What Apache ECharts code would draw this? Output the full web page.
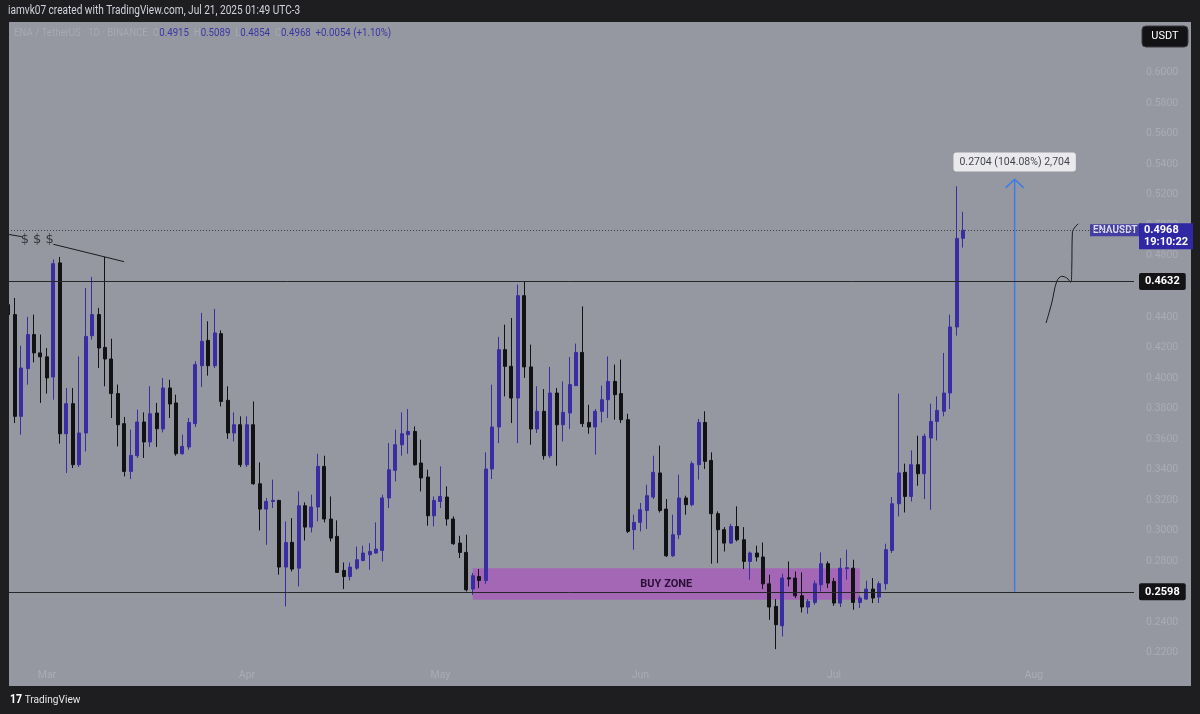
<!DOCTYPE html>
<html><head><meta charset="utf-8">
<script src="https://cdn.jsdelivr.net/npm/echarts@6/dist/echarts.min.js"></script>
<style>html,body{margin:0;padding:0;background:#1e1e21;}#c{width:1200px;height:714px;}</style>
</head><body><div id="c"></div>
<script>
// ---- data ----
const firstDay = [2025, 1, 23];   // Feb 23, 2025 (first daily bar, partly hidden)
const dayCount = 175;             // calendar days on the time scale (to Aug 16)
const monthNames = ['Jan','Feb','Mar','Apr','May','Jun','Jul','Aug','Sep','Oct','Nov','Dec'];
// daily candles: [open, high, low, close]
const ohlc = [
 [0.4480,0.4490,0.4400,0.4415], // Feb 23
 [0.4415,0.4524,0.3704,0.3748], // Feb 24
 [0.3748,0.4211,0.3628,0.4065],
 [0.4061,0.4400,0.3956,0.4284],
 [0.4284,0.4415,0.4102,0.4164],
 [0.4164,0.4284,0.3836,0.4138], // Feb 28
 [0.4138,0.4196,0.3897,0.4000], // Mar 1
 [0.4006,0.4776,0.3857,0.4749],
 [0.4754,0.4793,0.3569,0.3634],
 [0.3634,0.3934,0.3377,0.3831],
 [0.3831,0.3934,0.3409,0.3431],
 [0.3431,0.4141,0.3416,0.3639],
 [0.3639,0.4590,0.3518,0.4272],
 [0.4277,0.4662,0.4251,0.4415],
 [0.4415,0.4459,0.4065,0.4196],
 [0.4200,0.4793,0.3945,0.4124], // Mar 10
 [0.4124,0.4257,0.3737,0.3897],
 [0.3897,0.3956,0.3551,0.3693],
 [0.3700,0.3744,0.3354,0.3387],
 [0.3387,0.3661,0.3337,0.3492],
 [0.3490,0.3792,0.3475,0.3711],
 [0.3711,0.3774,0.3475,0.3580],
 [0.3580,0.3945,0.3547,0.3765],
 [0.3770,0.3836,0.3547,0.3667],
 [0.3665,0.4000,0.3643,0.3934],
 [0.3934,0.3988,0.3737,0.3829], // Mar 20
 [0.3836,0.3890,0.3490,0.3503],
 [0.3503,0.3628,0.3497,0.3551],
 [0.3547,0.3737,0.3529,0.3708],
 [0.3700,0.4109,0.3678,0.4087],
 [0.4080,0.4426,0.3941,0.4240],
 [0.4246,0.4371,0.4015,0.4080],
 [0.4080,0.4452,0.4065,0.4295],
 [0.4290,0.4312,0.3813,0.3846],
 [0.3853,0.3945,0.3600,0.3639],
 [0.3639,0.3774,0.3584,0.3693], // Mar 30
 [0.3693,0.3748,0.3416,0.3431],
 [0.3431,0.3748,0.3416,0.3693], // Apr 1
 [0.3693,0.3846,0.3300,0.3306],
 [0.3306,0.3446,0.3000,0.3140],
 [0.3140,0.3213,0.2906,0.3190],
 [0.3190,0.3333,0.3147,0.3197],
 [0.3197,0.3201,0.2710,0.2760],
 [0.2760,0.3059,0.2502,0.2921],
 [0.2922,0.3081,0.2731,0.2747],
 [0.2753,0.3256,0.2633,0.3162],
 [0.3162,0.3184,0.2934,0.3022], // Apr 10
 [0.3022,0.3234,0.2987,0.3154],
 [0.3154,0.3503,0.3059,0.3420],
 [0.3420,0.3490,0.3053,0.3075],
 [0.3075,0.3223,0.2928,0.2950],
 [0.2961,0.3066,0.2721,0.2725],
 [0.2738,0.2790,0.2616,0.2698],
 [0.2698,0.2790,0.2672,0.2760],
 [0.2753,0.2895,0.2742,0.2808],
 [0.2803,0.2900,0.2797,0.2852],
 [0.2841,0.2917,0.2742,0.2862], // Apr 20
 [0.2852,0.3053,0.2847,0.2878],
 [0.2869,0.3234,0.2797,0.3213],
 [0.3213,0.3573,0.3147,0.3398],
 [0.3394,0.3661,0.3321,0.3562],
 [0.3562,0.3774,0.3490,0.3634],
 [0.3628,0.3796,0.3503,0.3649],
 [0.3649,0.3682,0.3425,0.3431],
 [0.3442,0.3595,0.3256,0.3344],
 [0.3350,0.3398,0.3031,0.3096],
 [0.3096,0.3223,0.3027,0.3197], // Apr 30
 [0.3190,0.3420,0.3147,0.3223], // May 1
 [0.3219,0.3289,0.3031,0.3075],
 [0.3075,0.3092,0.2906,0.2913],
 [0.2917,0.2965,0.2819,0.2856],
 [0.2856,0.2972,0.2600,0.2611],
 [0.2616,0.2721,0.2578,0.2703],
 [0.2698,0.2747,0.2622,0.2672],
 [0.2672,0.3512,0.2650,0.3403],
 [0.3403,0.3956,0.3337,0.3678],
 [0.3678,0.4269,0.3573,0.4185], // May 10
 [0.4185,0.4349,0.3879,0.4076],
 [0.4076,0.4393,0.3704,0.3868],
 [0.3868,0.4612,0.3573,0.4539],
 [0.4539,0.4633,0.4000,0.4072],
 [0.4072,0.4218,0.3562,0.3665],
 [0.3665,0.3945,0.3639,0.3781],
 [0.3781,0.3927,0.3464,0.3490],
 [0.3490,0.4072,0.3475,0.3901],
 [0.3901,0.3934,0.3424,0.3693],
 [0.3693,0.3977,0.3584,0.3774], // May 20
 [0.3770,0.4137,0.3665,0.3956],
 [0.3949,0.4225,0.3949,0.4167],
 [0.4167,0.4469,0.3678,0.3700],
 [0.3708,0.3824,0.3634,0.3678],
 [0.3678,0.3796,0.3497,0.3781],
 [0.3781,0.3949,0.3708,0.3857],
 [0.3857,0.4141,0.3737,0.3977],
 [0.3977,0.4087,0.3726,0.3890],
 [0.3897,0.4120,0.3704,0.3726],
 [0.3726,0.3765,0.2983,0.2994], // May 30
 [0.3005,0.3103,0.2874,0.3053],
 [0.3053,0.3180,0.2994,0.3136], // Jun 1
 [0.3131,0.3300,0.3009,0.3228],
 [0.3219,0.3490,0.3206,0.3381],
 [0.3377,0.3556,0.3118,0.3131],
 [0.3140,0.3206,0.2826,0.2834],
 [0.2834,0.3103,0.2826,0.2972],
 [0.2972,0.3365,0.2944,0.3213],
 [0.3213,0.3228,0.3103,0.3169],
 [0.3169,0.3453,0.3158,0.3438],
 [0.3431,0.3731,0.3333,0.3708], // Jun 10
 [0.3708,0.3781,0.3403,0.3453],
 [0.3459,0.3512,0.2782,0.3110],
 [0.3110,0.3125,0.2786,0.3005],
 [0.3005,0.3022,0.2862,0.2917],
 [0.2917,0.3044,0.2913,0.3026],
 [0.3026,0.3158,0.2928,0.2939],
 [0.2939,0.3022,0.2747,0.2797],
 [0.2797,0.2862,0.2677,0.2852],
 [0.2852,0.2900,0.2797,0.2826],
 [0.2826,0.2921,0.2616,0.2650], // Jun 20
 [0.2650,0.2710,0.2414,0.2498],
 [0.2502,0.2550,0.2222,0.2382],
 [0.2375,0.2716,0.2305,0.2688],
 [0.2690,0.2797,0.2633,0.2682],
 [0.2688,0.2731,0.2557,0.2572],
 [0.2572,0.2725,0.2462,0.2498],
 [0.2498,0.2550,0.2454,0.2535],
 [0.2528,0.2671,0.2513,0.2651],
 [0.2644,0.2856,0.2600,0.2782],
 [0.2782,0.2797,0.2622,0.2655], // Jun 30
 [0.2666,0.2688,0.2506,0.2524], // Jul 1
 [0.2524,0.2819,0.2498,0.2753],
 [0.2750,0.2874,0.2677,0.2756],
 [0.2753,0.2808,0.2480,0.2528],
 [0.2528,0.2572,0.2491,0.2557],
 [0.2550,0.2671,0.2546,0.2616],
 [0.2616,0.2688,0.2524,0.2557],
 [0.2563,0.2666,0.2524,0.2651],
 [0.2651,0.2913,0.2611,0.2874],
 [0.2869,0.3219,0.2852,0.3175], // Jul 10
 [0.3175,0.3897,0.3092,0.3377],
 [0.3381,0.3438,0.3118,0.3223],
 [0.3223,0.3525,0.3190,0.3431],
 [0.3431,0.3621,0.3293,0.3372],
 [0.3372,0.3634,0.3206,0.3617],
 [0.3606,0.3831,0.3136,0.3715],
 [0.3715,0.3879,0.3590,0.3787],
 [0.3781,0.4164,0.3748,0.3901],
 [0.3901,0.4415,0.3796,0.4334],
 [0.4334,0.5256,0.4277,0.4914], // Jul 20
 [0.4915,0.5089,0.4854,0.4968]  // Jul 21
];
// horizontal levels
const resistanceLevel = 0.4632;
const supportLevel = 0.2598;
const lastPrice = 0.4968;
const countdown = '19:10:22';
// buy zone box
const buyZoneDates = ['2025-05-06', '2025-07-05'];
const buyZonePrices = [0.2546, 0.2752];
// price-range measurement (day index, from price, to price)
const measureDay = 156;
const measurePrices = [0.2598, 0.5302];
const measureText = '0.2704 (104.08%) 2,704';
// hand drawings, in [day index, price]
const dollarLineA = [[0.0, 0.4941], [2.1, 0.4926]];
const dollarLineB = [[7.0, 0.4876], [17.95, 0.4762]];
const dollarTextAt = [4.5, 0.4905];
const sketchPath = [[160.87,0.4360],[161.75,0.4492],[162.53,0.4633],[163.30,0.4666],[164.08,0.4655],[164.70,0.4627],[164.85,0.4710],[164.95,0.4951],[165.37,0.4990],[165.88,0.5010]];
const symbolLabelDay = 171.6;
// price axis
const priceMin = 0.2, priceMax = 0.632, priceStep = 0.02;

// ---- build ----
const dates = [];
const t0 = Date.UTC(firstDay[0], firstDay[1], firstDay[2]);
for (let i = 0; i < dayCount; i++) {
  const d = new Date(t0 + i * 86400000);
  dates.push(d.toISOString().slice(0, 10));
}
const candleData = ohlc.map(r => [r[0], r[3], r[2], r[1]]);
const UP = '#3a2ca2', DOWN = '#121214', BLUE_LBL = '#2f27a3', TV_BLUE = '#3f7be6', INK = '#1b1b1f';
const FAINT = '#a9acb4';
const headDx = 1.4, headDy = 0.0056;

const chart = echarts.init(document.getElementById('c'), null, {renderer: 'canvas'});
chart.setOption({
  backgroundColor: '#1e1e21',
  animation: false,
  grid: {left: 5, right: 66, top: 24, bottom: 31},
  xAxis: [{
    type: 'category', data: dates, boundaryGap: true,
    axisLine: {show: false}, axisTick: {show: false}, splitLine: {show: false},
    axisLabel: {
      inside: true, margin: 2, color: FAINT, fontSize: 10.5, fontFamily: 'Roboto',
      interval: (i, v) => v.endsWith('-01'),
      formatter: v => monthNames[+v.slice(5, 7) - 1]
    }
  }, {
    type: 'value', min: -0.5, max: dayCount - 0.5, show: false
  }],
  yAxis: [{
    type: 'value', position: 'right', min: priceMin, max: priceMax, interval: priceStep,
    axisLine: {show: false}, axisTick: {show: false}, splitLine: {show: false},
    axisLabel: {
      color: FAINT, fontSize: 10.5, fontFamily: 'Roboto', margin: 12,
      formatter: v => (v < 0.21 || v > 0.61) ? '' : v.toFixed(4)
    }
  }],
  series: [{
    type: 'candlestick', data: candleData, barWidth: 3.5,
    itemStyle: {color: UP, color0: DOWN, borderColor: UP, borderColor0: DOWN, borderWidth: 1},
    markArea: {
      silent: true,
      itemStyle: {color: 'rgba(172, 78, 192, 0.66)'},
      label: {show: true, position: 'inside', color: '#2a0f36', fontWeight: 'bold', fontSize: 11, fontFamily: 'Roboto', formatter: 'BUY ZONE'},
      data: [[{xAxis: buyZoneDates[0], yAxis: buyZonePrices[1]}, {xAxis: buyZoneDates[1], yAxis: buyZonePrices[0]}]]
    },
    markLine: {
      silent: true, symbol: 'none', animation: false, precision: 4,
      data: [
        {yAxis: resistanceLevel, lineStyle: {color: '#26262b', width: 1, type: 'solid'},
         label: {position: 'end', distance: 5, formatter: resistanceLevel.toFixed(4), backgroundColor: '#131316', color: '#ffffff', fontWeight: 'bold', fontSize: 11, fontFamily: 'Roboto', padding: [3, 6, 3, 6], borderRadius: 2}},
        {yAxis: supportLevel, lineStyle: {color: '#26262b', width: 1, type: 'solid'},
         label: {position: 'end', distance: 5, formatter: supportLevel.toFixed(4), backgroundColor: '#131316', color: '#ffffff', fontWeight: 'bold', fontSize: 11, fontFamily: 'Roboto', padding: [3, 6, 3, 6], borderRadius: 2}},
        {yAxis: lastPrice, lineStyle: {color: '#3e3e48', width: 1, type: [1, 2]},
         label: {position: 'end', distance: 5, offset: [0, 6], formatter: lastPrice.toFixed(4) + '\n' + countdown, backgroundColor: BLUE_LBL, color: '#ffffff', fontWeight: 'bold', fontSize: 11, lineHeight: 12, fontFamily: 'Roboto', padding: [1, 5, 1, 5], align: 'left'}}
      ]
    }
  }, {
    type: 'line', xAxisIndex: 1, data: dollarLineA, symbol: 'none', lineStyle: {color: INK, width: 1}
  }, {
    type: 'line', xAxisIndex: 1, data: dollarLineB, symbol: 'none', lineStyle: {color: INK, width: 1}
  }, {
    type: 'line', xAxisIndex: 1, data: sketchPath, symbol: 'none', smooth: 0.35, lineStyle: {color: INK, width: 1}
  }, {
    type: 'line', xAxisIndex: 1, data: [[measureDay, measurePrices[0]], [measureDay, measurePrices[1]]], symbol: 'none', lineStyle: {color: TV_BLUE, width: 1.5}
  }, {
    type: 'line', xAxisIndex: 1, data: [[measureDay - headDx, measurePrices[1] - headDy], [measureDay, measurePrices[1]], [measureDay + headDx, measurePrices[1] - headDy]], symbol: 'none', lineStyle: {color: TV_BLUE, width: 1.5}
  }, {
    type: 'scatter', xAxisIndex: 1, symbolSize: 1, itemStyle: {color: 'rgba(0,0,0,0)'}, silent: true,
    data: [
      {value: [measureDay, measurePrices[1] + 0.0113], label: {show: true, position: 'inside', formatter: measureText, backgroundColor: '#ffffff', color: '#131722', fontSize: 10.5, fontFamily: 'Roboto', padding: [4, 6, 4, 6], borderRadius: 3}},
      {value: dollarTextAt, label: {show: true, position: 'inside', formatter: '$ $ $', color: INK, fontSize: 13, fontFamily: 'DejaVu Sans'}},
      {value: [symbolLabelDay, lastPrice], label: {show: true, position: 'inside', formatter: 'ENAUSDT', backgroundColor: BLUE_LBL, color: '#ffffff', fontWeight: 'bold', fontSize: 10, fontFamily: 'Roboto', padding: [1, 3, 1, 3]}}
    ]
  }],
  graphic: [
    {type: 'rect', z: -10, shape: {x: 9, y: 22, width: 1182, height: 664}, style: {fill: '#9598a1'}},
    {type: 'rect', z: 100, shape: {x: 0, y: 22, width: 9, height: 664}, style: {fill: '#1e1e21'}},
    {type: 'text', z: 100, x: 8, y: 11, scaleX: 0.84, style: {text: 'iamvk07 created with TradingView.com, Jul 21, 2025 01:49 UTC-3', fill: '#d1d4dc', font: '12px Roboto', textVerticalAlign: 'middle'}},
    {type: 'text', z: 100, x: 14, y: 33, scaleX: 0.84, style: {
      text: '{t|ENA / TetherUS · 1D · BINANCE}  {k|O}{v|0.4915}  {k|H}{v|0.5089}  {k|L}{v|0.4854}  {k|C}{v|0.4968}  {v|+0.0054 (+1.10%)}',
      textVerticalAlign: 'middle', font: '11.5px Roboto',
      rich: {t: {fill: '#a6a9b1', font: '11.5px Roboto'}, k: {fill: '#a6a9b1', font: '11.5px Roboto'}, v: {fill: '#3b34a2', font: '11.5px Roboto'}}
    }},
    {type: 'rect', z: 100, shape: {x: 1142, y: 26, width: 46, height: 21, r: 4}, style: {fill: '#131316', stroke: '#3a3a40', lineWidth: 1}},
    {type: 'text', z: 101, x: 1165, y: 36.5, style: {text: 'USDT', fill: '#ffffff', font: '11px Roboto', textAlign: 'center', textVerticalAlign: 'middle'}},
    {type: 'text', z: 100, x: 10, y: 700, scaleX: 0.88, style: {text: '{l|17} TradingView', fill: '#e6e6e6', font: '11.5px Roboto', textVerticalAlign: 'middle', rich: {l: {fill: '#ffffff', font: 'bold 12px Roboto'}}}}
  ]
});
</script></body></html>
